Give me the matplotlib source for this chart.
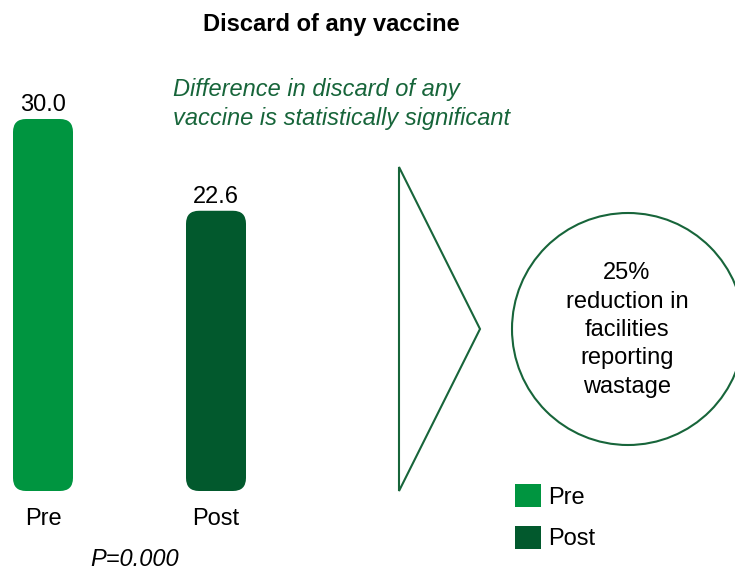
import numpy as np
import matplotlib.pyplot as plt
from matplotlib.patches import FancyBboxPatch, Polygon, Circle, Patch

plt.rcParams['font.family'] = ['Liberation Sans', 'DejaVu Sans']

# --- dados ---
categorias = ["Pre", "Post"]
valores = [30.0, 22.6]
rotulos = ["30.0", "22.6"]
titulo = "Discard of any vaccine"
nota = "Difference in discard of any\nvaccine is statistically significant"
p_valor = "P=0.000"
destaque = "25%\nreduction in\nfacilities\nreporting\nwastage"

COR = {"Pre": "#009540", "Post": "#02592d"}
VERDE_ESCURO = "#17653a"
FS = 17

W, H = 735, 570
fig = plt.figure(figsize=(W / 100, H / 100), dpi=100)

# eixo de barras: base em y=491px, topo (30) em y=119px
x0, base, topo = 43, 491, 119
passo = 173
ax = fig.add_axes([0, (H - base) / H, 1, (base - topo) / H])
ax.set_xlim(-x0 / passo, (W - x0) / passo)
ax.set_ylim(0, max(valores))
ax.axis("off")

larg = 60 / passo
fig.canvas.draw()
px_x = ax.transData.transform((1, 0))[0] - ax.transData.transform((0, 0))[0]
px_y = ax.transData.transform((0, 1))[1] - ax.transData.transform((0, 0))[1]
aspecto = px_x / px_y
raio = 13 / px_x

for i, (cat, v, rot) in enumerate(zip(categorias, valores, rotulos)):
    barra = FancyBboxPatch((i - larg / 2, 0), larg, v,
                           boxstyle=f"round,pad=0,rounding_size={raio}",
                           mutation_aspect=aspecto,
                           facecolor=COR[cat], edgecolor="none", clip_on=False)
    ax.add_patch(barra)
    ax.annotate(rot, (i, v), xytext=(0, 2), textcoords="offset points",
                ha="center", va="bottom", fontsize=FS, annotation_clip=False)
    ax.annotate(cat, (i, 0), xytext=(0, -28), textcoords="offset pixels",
                ha="center", va="center", fontsize=FS, annotation_clip=False)

# camada de anotacoes em pixels
ov = fig.add_axes([0, 0, 1, 1], facecolor="none")
ov.set_xlim(0, W)
ov.set_ylim(H, 0)
ov.axis("off")

ov.text(331, 24, titulo, ha="center", va="center", fontsize=FS,
        fontweight="bold")
ov.text(173, 104, nota, ha="left", va="center", fontsize=FS,
        style="italic", color=VERDE_ESCURO, linespacing=1.38)
ov.text(135, 560, p_valor, ha="center", va="center", fontsize=FS,
        style="italic")

ov.add_patch(Polygon([[399, 167], [480, 329], [399, 491]], closed=True,
                     fill=False, edgecolor=VERDE_ESCURO, lw=1.5))
ov.add_patch(Circle((628, 329), 116, fill=False, edgecolor=VERDE_ESCURO,
                    lw=1.5, clip_on=False))
ov.text(627, 330, destaque, ha="center", va="center", fontsize=FS,
        linespacing=1.38)

alcas = [Patch(facecolor=COR[c], edgecolor="none", label=c) for c in categorias]
fig.legend(handles=alcas, loc="upper left",
           bbox_to_anchor=(515 / W, 1 - 484 / H), frameon=False,
           fontsize=FS, handlelength=1.1, handleheight=1.15,
           handletextpad=0.3, labelspacing=0.72, borderpad=0,
           borderaxespad=0)

fig.savefig("out.png", dpi=100)
